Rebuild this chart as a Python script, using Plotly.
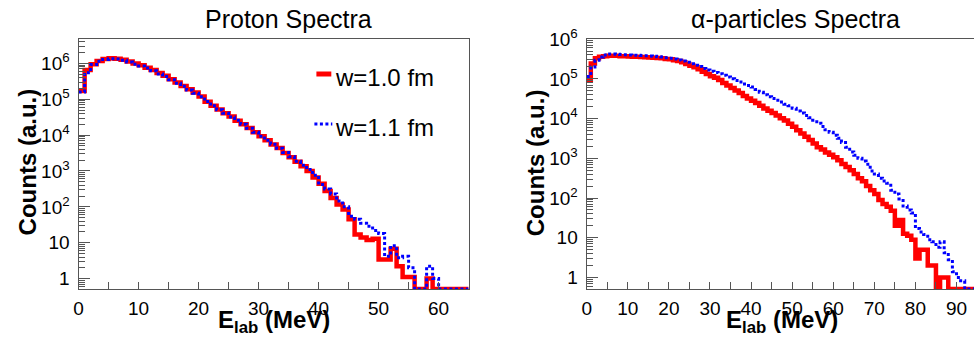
import numpy as np
import plotly.graph_objects as go

# ---------------- data (counts per 1-MeV bin, starting at 0 MeV) ----------------
bin_width = 1.0

proton_w10 = [1.7e5, 6.5e5, 9.5e5, 1.17e6, 1.32e6, 1.38e6, 1.35e6, 1.26e6, 1.12e6, 1.0e6,
              8.9e5, 7.6e5, 6.5e5, 5.4e5, 4.5e5, 3.6e5, 2.95e5, 2.35e5, 1.9e5, 1.55e5,
              1.2e5, 8.5e4, 6.6e4, 5.2e4, 4.1e4, 3.3e4, 2.5e4, 2.0e4, 1.58e4, 1.2e4,
              9.3e3, 7.2e3, 5.5e3, 4.4e3, 3.2e3, 2.4e3, 1.8e3, 1.35e3, 1.0e3, 660,
              440, 275, 178, 117, 85, 45, 17, 14, 12, 13,
              3.4, 3.4, 6.8, 2.2, 1.1, 1.1, 0, 0, 1, 0,
              0, 0, 0, 0, 0]
proton_w11 = [1.6e5, 5.5e5, 9.3e5, 1.15e6, 1.29e6, 1.35e6, 1.32e6, 1.23e6, 1.1e6, 9.5e5,
              8.5e5, 7.4e5, 6.2e5, 5.1e5, 4.3e5, 3.5e5, 2.8e5, 2.3e5, 1.8e5, 1.48e5,
              1.17e5, 8.7e4, 6.6e4, 5.1e4, 4.1e4, 3.2e4, 2.6e4, 2.0e4, 1.55e4, 1.2e4,
              9.3e3, 7.2e3, 5.6e3, 4.3e3, 3.3e3, 2.5e3, 1.86e3, 1.45e3, 1.1e3, 760,
              420, 316, 230, 145, 100, 55, 45, 35, 29, 22,
              18, 4.2, 8.3, 3.8, 4.2, 2.0, 0, 0, 2.2, 1,
              0, 0, 0, 0, 0]

alpha_w10 = [9.5e4, 2.45e5, 3.3e5, 3.6e5, 3.7e5, 3.8e5, 3.8e5, 3.8e5, 3.7e5, 3.7e5,
             3.65e5, 3.6e5, 3.6e5, 3.55e5, 3.5e5, 3.45e5, 3.4e5, 3.35e5, 3.3e5, 3.15e5,
             3.1e5, 2.95e5, 2.8e5, 2.6e5, 2.35e5, 2.15e5, 1.95e5, 1.75e5, 1.5e5, 1.32e5,
             1.17e5, 1.07e5, 9.3e4, 7.9e4, 6.8e4, 5.9e4, 5.1e4, 4.4e4, 3.7e4, 3.2e4,
             2.8e4, 2.45e4, 2.1e4, 1.8e4, 1.58e4, 1.38e4, 1.2e4, 1.02e4, 8.9e3, 7.4e3,
             6.2e3, 5.1e3, 4.2e3, 3.5e3, 2.9e3, 2.35e3, 1.9e3, 1.66e3, 1.4e3, 1.23e3,
             1.07e3, 890, 720, 600, 500, 400, 316, 263, 200, 158,
             126, 89, 71, 60, 48, 20, 28, 12.6, 11.2, 8.9,
             3.0, 5.0, 5.0, 2.0, 2.0, 0, 1, 1, 0, 0,
             0, 0, 0, 0, 0]
alpha_w11 = [1.15e5, 2.0e5, 2.95e5, 3.55e5, 4.0e5, 4.25e5, 4.2e5, 4.15e5, 4.1e5, 4.05e5,
             4.0e5, 3.95e5, 3.9e5, 3.85e5, 3.8e5, 3.75e5, 3.7e5, 3.6e5, 3.55e5, 3.4e5,
             3.3e5, 3.15e5, 3.0e5, 2.8e5, 2.6e5, 2.4e5, 2.2e5, 2.05e5, 1.82e5, 1.66e5,
             1.55e5, 1.45e5, 1.35e5, 1.23e5, 1.12e5, 1.0e5, 9.1e4, 8.3e4, 7.4e4, 6.8e4,
             6.2e4, 5.4e4, 4.6e4, 4.0e4, 3.55e4, 3.2e4, 2.9e4, 2.6e4, 2.3e4, 2.1e4,
             1.82e4, 1.55e4, 1.38e4, 1.2e4, 1.05e4, 9.1e3, 7.6e3, 6.3e3, 5.2e3, 4.5e3,
             3.8e3, 3.2e3, 2.5e3, 1.9e3, 1.45e3, 1.2e3, 1.0e3, 850, 710, 480,
             400, 316, 270, 235, 158, 126, 95, 63, 50, 42,
             17, 14, 12, 8.9, 7.9, 5.8, 7.9, 4.2, 2.8, 1.4,
             1.0, 0.83, 0, 0, 0]

series_names = ["w=1.0 fm", "w=1.1 fm"]
panel_titles = ["Proton Spectra", "\u03b1-particles Spectra"]
y_tick_vals = [1, 10, 100, 1e3, 1e4, 1e5, 1e6]
y_tick_text = ["1", "10", "10<sup>2</sup>", "10<sup>3</sup>", "10<sup>4</sup>",
               "10<sup>5</sup>", "10<sup>6</sup>"]

# ---------------- figure ----------------
W, H = 974, 338
FONT = "Liberation Sans, Arial, Helvetica, sans-serif"
RED, BLUE = "#ff0000", "#0000ff"
AX = "#555555"

yr_left = [-0.29, 6.68]
yr_right = [-0.29, 6.003]


def step_trace(counts, ymin_log, color, width, dash, xa, ya, name):
    c = np.asarray(counts, dtype=float)
    floor = 10 ** ymin_log
    y = np.where(c > 0, c, floor)
    edges = np.arange(len(c) + 1) * bin_width
    return go.Scatter(x=edges, y=np.append(y, y[-1]), mode="lines", line_shape="hv",
                      line=dict(color=color, width=width, dash=dash),
                      xaxis=xa, yaxis=ya, name=name, showlegend=False,
                      hoverinfo="skip")


fig = go.Figure()
fig.add_trace(step_trace(proton_w10, yr_left[0], RED, 4.5, "solid", "x", "y", series_names[0]))
fig.add_trace(step_trace(proton_w11, yr_left[0], BLUE, 3, "3px,2.5px", "x", "y", series_names[1]))
fig.add_trace(step_trace(alpha_w10, yr_right[0], RED, 4.5, "solid", "x2", "y2", series_names[0]))
fig.add_trace(step_trace(alpha_w11, yr_right[0], BLUE, 3, "3px,2.5px", "x2", "y2", series_names[1]))

minor_vals = [m * 10 ** d for d in range(-1, 7) for m in range(2, 10)]

tickfont = dict(family=FONT, size=19, color="black")
common_x = dict(showline=True, linecolor=AX, linewidth=1.3, ticks="inside", ticklen=7,
                tickcolor=AX, tickwidth=1, tickfont=tickfont, showgrid=False, zeroline=False,
                dtick=10, tick0=0, ticklabelstandoff=2,
                minor=dict(ticks="inside", ticklen=7, tickcolor=AX, dtick=5, tick0=0))
common_y = dict(type="log", showline=True, linecolor=AX, linewidth=1.3, ticks="inside",
                ticklen=11, tickcolor=AX, tickwidth=1, tickfont=tickfont, showgrid=False,
                zeroline=False, tickmode="array", tickvals=y_tick_vals, ticktext=y_tick_text,
                ticklabelstandoff=4,
                minor=dict(ticks="inside", ticklen=6, tickcolor=AX, tickmode="array",
                           tickvals=minor_vals))

fig.update_layout(
    width=W, height=H, margin=dict(l=0, r=0, t=39, b=49),
    paper_bgcolor="white", plot_bgcolor="white", showlegend=False,
    xaxis=dict(domain=[74 / W, 466 / W], range=[0, 65], anchor="y", mirror=True, **common_x),
    yaxis=dict(domain=[0, 1], range=yr_left, anchor="x", mirror=True, **common_y),
    xaxis2=dict(domain=[584.7 / W, 1.0], range=[0, 94.26], anchor="y2", mirror=True, **common_x),
    yaxis2=dict(domain=[0, 1], range=yr_right, anchor="x2", mirror=False, **common_y),
)


def py(ypx):
    return (289 - ypx) / 250.0


ann = []
# panel titles
ann.append(dict(text=panel_titles[0], x=285 / W, y=py(19), xanchor="center", yanchor="middle",
                font=dict(family=FONT, size=25, color="black")))
ann.append(dict(text=panel_titles[1], x=794.5 / W, y=py(19), xanchor="center", yanchor="middle",
                font=dict(family=FONT, size=25, color="black")))
# axis titles
for xc, yc in [(22.5, 162), (533, 163)]:
    ann.append(dict(text="<b>Counts (a.u.)</b>", x=xc / W, y=py(yc), textangle=-90,
                    xanchor="center", yanchor="middle",
                    font=dict(family=FONT, size=24, color="black")))
for xc in [270, 781]:
    ann.append(dict(text="<b>E<sub>lab</sub> (MeV)</b>", x=xc / W, y=py(321.5),
                    xanchor="center", yanchor="middle",
                    font=dict(family=FONT, size=24, color="black")))
# legend text
ann.append(dict(text=series_names[0], x=330 / W, y=py(77), xanchor="left", yanchor="middle",
                font=dict(family=FONT, size=24, color="black")))
ann.append(dict(text=series_names[1], x=330 / W, y=py(127), xanchor="left", yanchor="middle",
                font=dict(family=FONT, size=24, color="black")))
for a in ann:
    a.update(xref="paper", yref="paper", showarrow=False)
fig.update_layout(annotations=ann)

# legend samples
fig.add_shape(type="line", xref="paper", yref="paper", x0=313 / W, x1=328 / W,
              y0=py(74), y1=py(74), line=dict(color=RED, width=5))
fig.add_shape(type="line", xref="paper", yref="paper", x0=311 / W, x1=329 / W,
              y0=py(124), y1=py(124), line=dict(color=BLUE, width=3, dash="3px,2.5px"))

fig.write_html("out.html")
